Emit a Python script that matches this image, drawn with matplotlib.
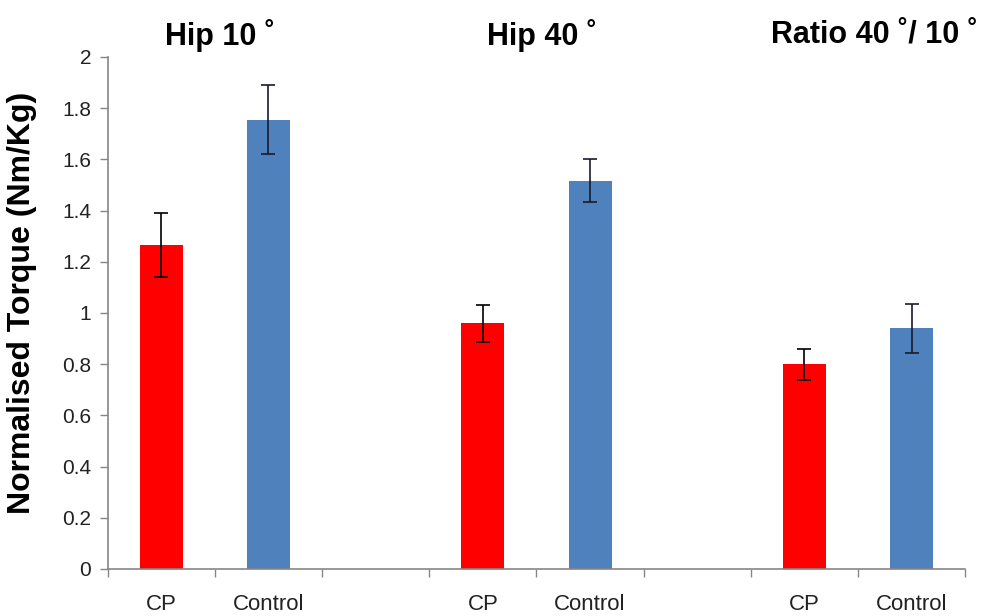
import numpy as np
import matplotlib
matplotlib.use("Agg")
import matplotlib.pyplot as plt
from matplotlib.ticker import FixedLocator, FuncFormatter

plt.rcParams['font.family'] = ['Liberation Sans', 'DejaVu Sans']

groups = ["Hip 10 ˚", "Hip 40 ˚", "Ratio 40 ˚/ 10 ˚"]
subjects = ["CP", "Control"]
cp_mean = [1.265, 0.96, 0.80]
cp_err = [0.125, 0.073, 0.06]
control_mean = [1.755, 1.517, 0.94]
control_err = [0.135, 0.083, 0.095]

axis_grey = "#868686"

fig = plt.figure(figsize=(9.88, 6.16), dpi=100)
ax = fig.add_axes([0.109, 0.0763, 0.868, 0.8312])

# each group takes 3 category slots: CP, Control, blank
x_cp = np.arange(len(groups)) * 3
x_ctl = x_cp + 1

ax.bar(x_cp, cp_mean, width=0.4, color="#FF0000", zorder=2)
ax.bar(x_ctl, control_mean, width=0.4, color="#4F81BD", zorder=2)
ax.errorbar(x_cp, cp_mean, yerr=cp_err, fmt="none", ecolor="black",
            elinewidth=1.2, capsize=5, capthick=1.2, zorder=3)
ax.errorbar(x_ctl, control_mean, yerr=control_err, fmt="none", ecolor="#1a1a2e",
            elinewidth=1.2, capsize=5, capthick=1.2, zorder=3)

n_slots = len(groups) * 3 - 1
ax.set_xlim(-0.5, n_slots - 0.5)
ax.set_ylim(0, 2)

# tick marks between categories, labels at category centres
ax.xaxis.set_major_locator(FixedLocator(np.arange(-0.5, n_slots, 1.0)))
ax.xaxis.set_major_formatter(FuncFormatter(lambda v, p: ""))
label_pos = np.concatenate([x_cp, x_ctl])
label_txt = [subjects[0]] * len(groups) + [subjects[1]] * len(groups)
ax.xaxis.set_minor_locator(FixedLocator(label_pos))
ax.set_xticklabels(label_txt, minor=True)
ax.tick_params(axis="x", which="major", direction="out", length=6, color=axis_grey, width=1)
ax.tick_params(axis="x", which="minor", length=0, pad=18, labelsize=16, labelcolor="#222222")

ax.set_yticks(np.arange(0, 2.01, 0.2))
ax.yaxis.set_major_formatter(FuncFormatter(lambda v, p: f"{round(v, 1):g}"))
ax.tick_params(axis="y", direction="out", length=6, color=axis_grey, width=1,
               labelsize=15, labelcolor="#222222", pad=6)

for s in ["top", "right"]:
    ax.spines[s].set_visible(False)
for s in ["left", "bottom"]:
    ax.spines[s].set_color(axis_grey)
    ax.spines[s].set_linewidth(1.2)

ax.set_ylabel("Normalised Torque (Nm/Kg)", fontsize=23, fontweight="bold")
ax.yaxis.set_label_coords(-0.082, 0.52)

title_dx = [0.55, 0.55, 0.65]
for i, g in enumerate(groups):
    ax.text(x_cp[i] + title_dx[i], 1.041, g, transform=ax.get_xaxis_transform(),
            ha="center", va="center", fontsize=22, fontweight="bold")

fig.savefig("out.png", dpi=100)
